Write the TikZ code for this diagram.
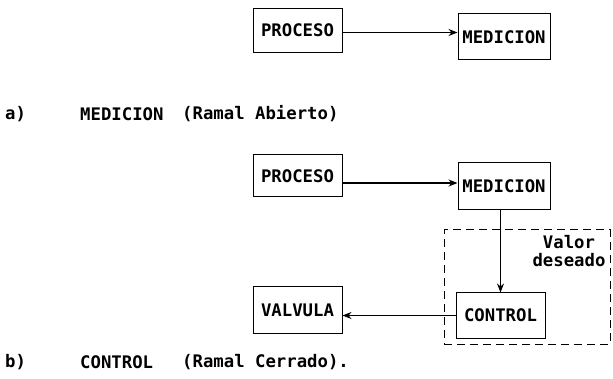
\documentclass[tikz,border=0pt]{standalone}
\usepackage{fontspec}
\setmonofont{DejaVu Sans Mono}
\usetikzlibrary{arrows.meta}
\begin{document}
\begin{tikzpicture}[x=1pt,y=-1pt,
  every node/.style={font=\ttfamily\bfseries\fontsize{17.3}{18.5}\selectfont},
  blk/.style={draw, line width=1pt, inner sep=0pt, minimum width=89pt, minimum height=44pt},
  grp/.style={draw, line width=1pt, dash pattern=on 8pt off 5pt, inner sep=0pt},
  lbl/.style={anchor=west, inner sep=0pt},
  arr/.style={line width=1.2pt, -{Stealth[length=9pt,width=7pt]}}]
\useasboundingbox (0,0) rectangle (613,379);
% (a)
\node[blk] (p1) at (297.5,30.5) {PROCESO};
\node[blk, minimum width=92pt, minimum height=46pt] (m1) at (504,37) {MEDICION};
\draw[arr] ([yshift=-2pt]p1.east) -- ([yshift=-2pt]p1.east -| m1.west);
\node[lbl] (la) at (5,114) {a)};
\node[lbl] (ta) at (80,114) {MEDICION};
\node[lbl] (ra) at (182,114) {(Ramal Abierto)};
% (b)
\node[grp, minimum width=166pt, minimum height=114pt] (g) at (527,287) {};
\node[blk, minimum height=42pt] (p2) at (297.5,176) {PROCESO};
\node[blk, minimum width=92pt, minimum height=47pt] (m2) at (504,186.5) {MEDICION};
\node[blk, minimum height=45pt] (c) at (500.5,315.5) {CONTROL};
\node[blk, minimum height=46pt] (v) at (297.5,310) {VALVULA};
\draw[arr] ([yshift=-7pt]p2.east) -- ([yshift=-7pt]p2.east -| m2.west);
\draw[arr] (m2.south -| c.north) -- (c.north);
\draw[arr] (c.west) -- (c.west -| v.east);
\node[align=center, inner sep=0pt] (vd) at (569,251) {Valor\\deseado};
\node[lbl] (lb) at (5,362) {b)};
\node[lbl] (tb) at (80,362) {CONTROL};
\node[lbl] (rb) at (182,362) {(Ramal Cerrado).};
\end{tikzpicture}
\end{document}
